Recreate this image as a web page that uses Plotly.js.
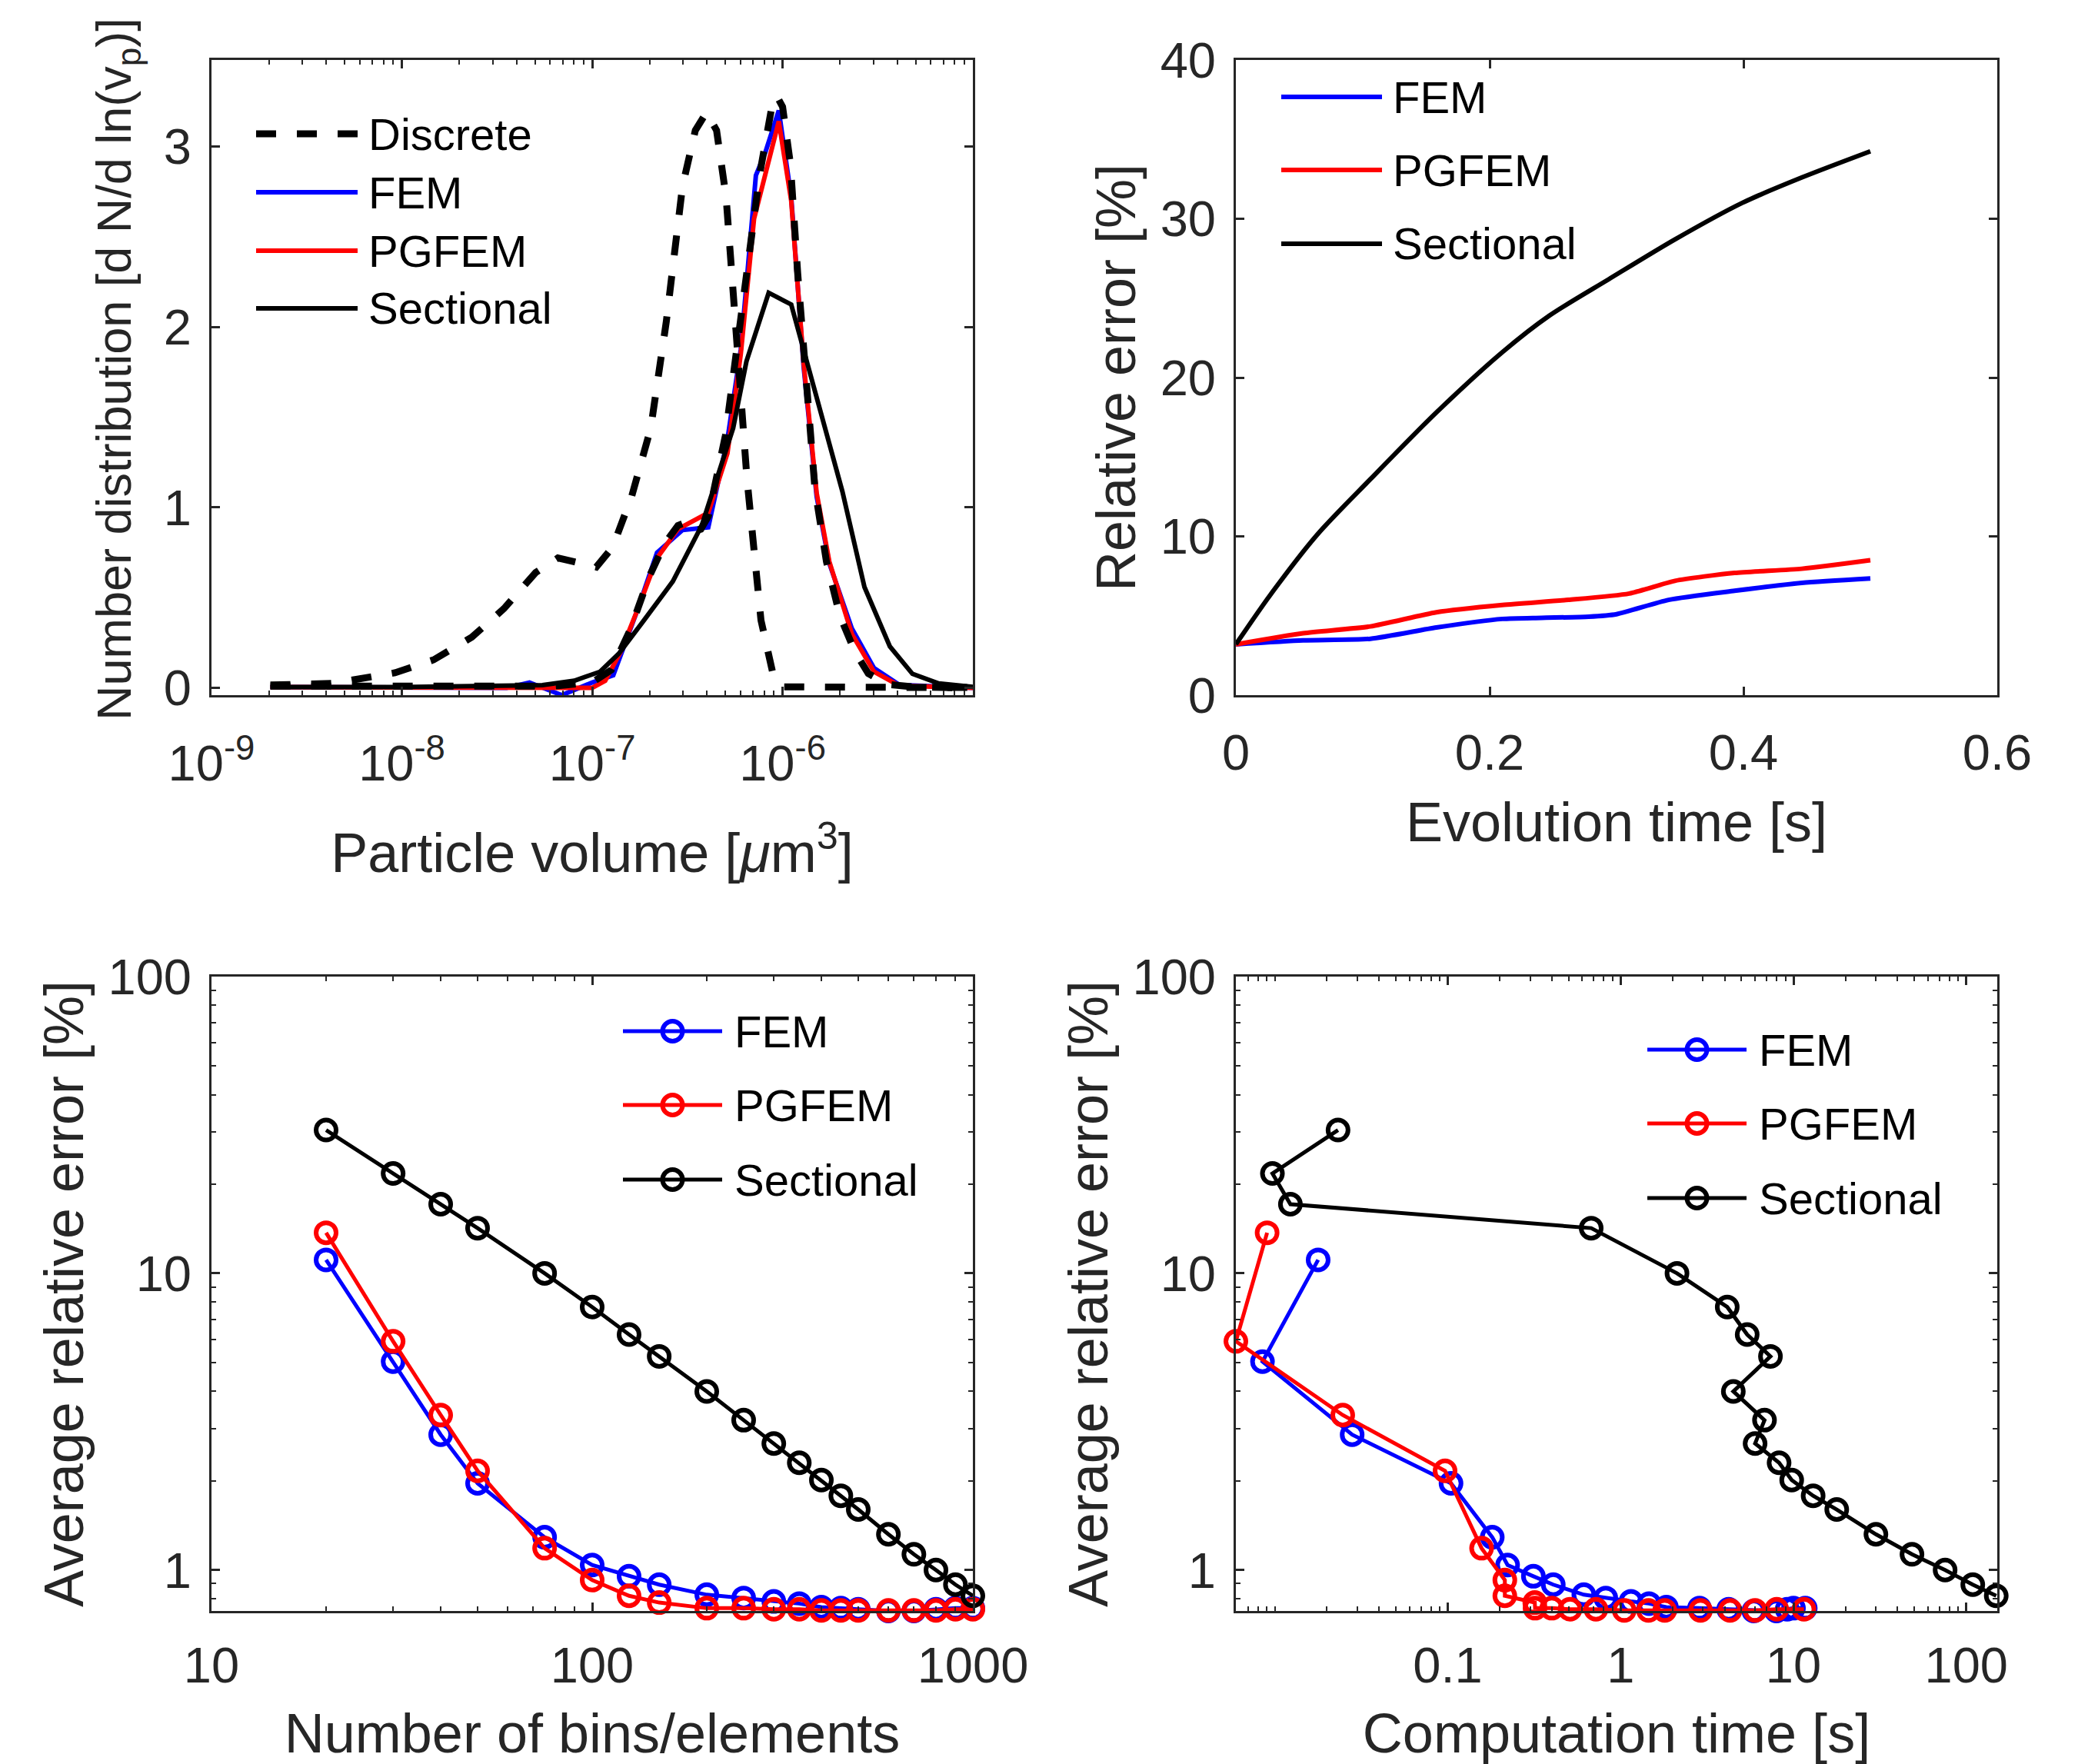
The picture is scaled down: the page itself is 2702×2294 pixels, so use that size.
<!DOCTYPE html>
<html><head><meta charset="utf-8">
<script src="https://cdn.plot.ly/plotly-3.0.1.min.js"></script>
<style>html,body{margin:0;padding:0;background:#fff}</style>
</head><body><div id="chart" style="width:2702px;height:2294px"></div>
<script>
// ---------- Panel (a): number distribution ----------
const volDiscreteA = [2.04e-9,4.3e-9,9.2e-9,1.47e-8,2.33e-8,3.44e-8,5.05e-8,6.6e-8,8.0e-8,1.05e-7,1.28e-7,1.61e-7,2.03e-7,2.45e-7,2.98e-7,3.48e-7,3.98e-7,4.5e-7,5.05e-7,5.66e-7,6.5e-7,7.7e-7,8.9e-7,1.0e-6,1.5e-6,4e-6,1e-5];
const valDiscreteA = [0.016,0.025,0.084,0.156,0.281,0.44,0.64,0.72,0.70,0.67,0.78,1.06,1.44,2.03,2.78,3.09,3.19,3.09,2.72,2.06,1.16,0.375,0.078,0.006,0.003,0.003,0.003];
const volDiscreteB = [2.04e-9,1e-8,3.16e-8,6.31e-8,1e-7,1.26e-7,1.58e-7,2.0e-7,2.4e-7,2.82e-7,3.16e-7,3.47e-7,3.72e-7,4.07e-7,5.01e-7,6.31e-7,7.59e-7,8.71e-7,9.33e-7,1e-6,1.10e-6,1.20e-6,1.32e-6,1.48e-6,1.70e-6,2.0e-6,2.4e-6,2.82e-6,3.55e-6,5.01e-6,1e-5];
const valDiscreteB = [0.01,0.01,0.01,0.01,0.03,0.1,0.32,0.62,0.8,0.9,0.92,0.87,0.88,0.95,1.4,2.2,2.85,3.2,3.28,3.22,2.9,2.3,1.7,1.1,0.7,0.4,0.2,0.08,0.02,0.005,0.0];
const volFEM = [2.04e-9,1e-8,2.51e-8,3.55e-8,4.68e-8,5.62e-8,6.92e-8,1e-7,1.29e-7,1.74e-7,2.19e-7,2.98e-7,3.55e-7,4.07e-7,5.13e-7,6.03e-7,7.24e-7,8.13e-7,9.55e-7,1.11e-6,1.29e-6,1.51e-6,1.76e-6,2.31e-6,3.02e-6,4.11e-6,1e-5];
const valFEM = [0.005,0.005,0.003,0.0,0.03,0.0,-0.04,0.03,0.07,0.44,0.75,0.875,0.88,0.89,1.375,1.875,2.84,2.97,3.2,2.72,1.78,1.06,0.69,0.33,0.11,0.016,0.0];
const volPGFEM = [2.04e-9,3.16e-8,6.31e-8,1e-7,1.17e-7,1.41e-7,1.74e-7,2.19e-7,2.82e-7,3.55e-7,4.07e-7,5.13e-7,6.03e-7,7.08e-7,8.32e-7,9.55e-7,1.11e-6,1.29e-6,1.51e-6,1.76e-6,2.31e-6,3.02e-6,4.11e-6,1e-5];
const valPGFEM = [0.005,0.005,0.0,0.0,0.04,0.2,0.44,0.72,0.88,0.94,0.97,1.3,1.85,2.6,2.9,3.14,2.7,1.8,1.08,0.7,0.3,0.09,0.012,0.0];
const volSect = [2.04e-9,1e-8,5.47e-8,8.04e-8,1.10e-7,1.38e-7,1.87e-7,2.65e-7,3.76e-7,5.5e-7,6.46e-7,8.45e-7,1.11e-6,1.47e-6,2.06e-6,2.69e-6,3.66e-6,4.81e-6,6.61e-6,1e-5];
const valSect = [0.005,0.005,0.015,0.04,0.09,0.19,0.375,0.59,0.9,1.44,1.81,2.19,2.125,1.66,1.09,0.56,0.23,0.078,0.025,0.006];

// ---------- Panel (b): relative error vs evolution time ----------
const tSect = [0,0.027,0.064,0.106,0.158,0.21,0.247,0.294,0.346,0.399,0.446,0.5];
const errSectT = [3.2,6.3,10.1,13.6,17.8,21.6,23.9,26.2,28.7,31.0,32.6,34.25];
const tFEM = [0,0.053,0.106,0.158,0.21,0.241,0.278,0.3,0.341,0.393,0.446,0.5];
const errFEMT = [3.2,3.45,3.55,4.26,4.8,4.87,4.94,5.1,6.0,6.57,7.07,7.35];
const tPGFEM = [0,0.053,0.106,0.158,0.21,0.262,0.31,0.346,0.393,0.446,0.5];
const errPGFEMT = [3.2,3.9,4.33,5.22,5.68,6.0,6.4,7.2,7.7,7.96,8.5];

// ---------- Panels (c),(d): convergence & cost ----------
const bins = [20,30,40,50,75,100,125,150,200,250,300,350,400,450,500,600,700,800,900,1000];
const avgErrFEM = [11.1,5.04,2.86,1.96,1.29,1.04,0.953,0.893,0.826,0.805,0.784,0.771,0.750,0.744,0.738,0.728,0.728,0.738,0.744,0.744];
const avgErrPGFEM = [13.7,5.90,3.33,2.16,1.185,0.925,0.819,0.777,0.744,0.744,0.738,0.738,0.731,0.731,0.731,0.731,0.731,0.731,0.738,0.738];
const avgErrSect = [30.4,21.7,17.1,14.2,10.0,7.70,6.22,5.25,4.00,3.20,2.67,2.30,2.01,1.78,1.60,1.32,1.13,1.00,0.893,0.819];
const cpuFEM = [0.0178,0.00848,0.028,0.1045,0.181,0.222,0.313,0.408,0.613,0.821,1.148,1.46,1.84,2.86,4.22,5.9,7.97,9.2,10.0,11.7];
const cpuPGFEM = [0.00902,0.00595,0.0247,0.0965,0.157,0.214,0.214,0.319,0.32,0.40,0.51,0.72,1.05,1.45,1.8,2.9,4.3,6.0,8.0,11.5];
const cpuSect = [0.0232,0.00968,0.0123,0.676,2.12,4.14,5.40,7.36,4.49,6.80,6.0,8.26,9.77,13.0,17.8,30.0,48.5,75.4,109,149];

const seriesNames = ['FEM','PGFEM','Sectional'];
const discreteName = 'Discrete';
const volTicks = [1e-9,1e-8,1e-7,1e-6];
const volTickText = ['10<sup>-9</sup>','10<sup>-8</sup>','10<sup>-7</sup>','10<sup>-6</sup>'];

// ---------- styling ----------
const W = 2702, H = 2294;
const BLUE = '#0000ff', RED = '#ff0000', BLACK = '#000000', AX = '#262626';
const colors = [BLUE, RED, BLACK];
const FONT = 'Arial, "Liberation Sans", Helvetica, sans-serif';
const px = x => x / W, py = y => 1 - y / H;

const axBase = {
  showline: true, linecolor: AX, linewidth: 3, mirror: 'ticks',
  ticks: 'inside', ticklen: 11, tickwidth: 3, tickcolor: AX,
  showgrid: false, zeroline: false, automargin: false,
  tickfont: {family: FONT, size: 65, color: AX}
};
const minorLog = {ticks: 'inside', ticklen: 6, tickwidth: 2, tickcolor: AX, dtick: 'D1', showgrid: false};
const titleFont = {family: FONT, size: 72, color: AX};

const traces = [];
// Panel a
traces.push({x: volFEM, y: valFEM, xaxis: 'x', yaxis: 'y', mode: 'lines', line: {color: BLUE, width: 6}, showlegend: false, name: seriesNames[0]});
traces.push({x: volPGFEM, y: valPGFEM, xaxis: 'x', yaxis: 'y', mode: 'lines', line: {color: RED, width: 6}, showlegend: false, name: seriesNames[1]});
traces.push({x: volSect, y: valSect, xaxis: 'x', yaxis: 'y', mode: 'lines', line: {color: BLACK, width: 6}, showlegend: false, name: seriesNames[2]});
traces.push({x: volDiscreteA, y: valDiscreteA, xaxis: 'x', yaxis: 'y', mode: 'lines', line: {color: BLACK, width: 9, dash: '26px,27px'}, showlegend: false, name: discreteName});
traces.push({x: volDiscreteB, y: valDiscreteB, xaxis: 'x', yaxis: 'y', mode: 'lines', line: {color: BLACK, width: 9, dash: '26px,27px'}, showlegend: false, name: discreteName});
// Panel b
traces.push({x: tFEM, y: errFEMT, xaxis: 'x2', yaxis: 'y2', mode: 'lines', line: {color: BLUE, width: 6, shape: 'spline', smoothing: 0.6}, showlegend: false, name: seriesNames[0]});
traces.push({x: tPGFEM, y: errPGFEMT, xaxis: 'x2', yaxis: 'y2', mode: 'lines', line: {color: RED, width: 6, shape: 'spline', smoothing: 0.6}, showlegend: false, name: seriesNames[1]});
traces.push({x: tSect, y: errSectT, xaxis: 'x2', yaxis: 'y2', mode: 'lines', line: {color: BLACK, width: 6, shape: 'spline', smoothing: 0.8}, showlegend: false, name: seriesNames[2]});
// Panels c, d
const errs = [avgErrFEM, avgErrPGFEM, avgErrSect];
const cpus = [cpuFEM, cpuPGFEM, cpuSect];
const mk = c => ({symbol: 'circle-open', size: 26, color: c, line: {width: 6, color: c}});
for (let i = 0; i < 3; i++) {
  traces.push({x: bins, y: errs[i], xaxis: 'x3', yaxis: 'y3', mode: 'lines+markers', cliponaxis: false,
    line: {color: colors[i], width: 5}, marker: mk(colors[i]), showlegend: false, name: seriesNames[i]});
}
for (let i = 0; i < 3; i++) {
  traces.push({x: cpus[i], y: errs[i], xaxis: 'x4', yaxis: 'y4', mode: 'lines+markers', cliponaxis: false,
    line: {color: colors[i], width: 5}, marker: mk(colors[i]), showlegend: false, name: seriesNames[i]});
}

// ---------- hand-drawn legends (MATLAB style long samples) ----------
const shapes = [], annotations = [];
function legendEntry(x0, x1, y, label, color, opts) {
  opts = opts || {};
  shapes.push({type: 'line', xref: 'paper', yref: 'paper', x0: px(x0), x1: px(x1), y0: py(y), y1: py(y),
    line: {color: color, width: opts.width || 6, dash: opts.dash || 'solid'}});
  if (opts.marker) {
    const cx = (x0 + x1) / 2;
    shapes.push({type: 'circle', xref: 'paper', yref: 'paper', xsizemode: 'pixel', ysizemode: 'pixel',
      xanchor: px(cx), yanchor: py(y), x0: -13, x1: 13, y0: -13, y1: 13,
      line: {color: color, width: 6}, fillcolor: 'rgba(0,0,0,0)'});
  }
  annotations.push({xref: 'paper', yref: 'paper', x: px(opts.tx), y: py(y), xanchor: 'left', yanchor: 'middle',
    text: label, showarrow: false, font: {family: FONT, size: 58, color: '#000'}});
}
// panel a legend
const legA = [[discreteName, BLACK, {width: 9, dash: '26px,27px'}], [seriesNames[0], BLUE, {}], [seriesNames[1], RED, {}], [seriesNames[2], BLACK, {}]];
const legAy = [174, 250, 326, 401];
legA.forEach((e, i) => legendEntry(333, 465, legAy[i], e[0], e[1], Object.assign({tx: 477}, e[2])));
// panel b legend
const legBy = [126, 221, 317];
seriesNames.forEach((n, i) => legendEntry(1666, 1797, legBy[i], n, colors[i], {tx: 1809}));
// panel c legend
const legCy = [1341, 1437, 1534];
seriesNames.forEach((n, i) => legendEntry(810, 939, legCy[i], n, colors[i], {tx: 953, marker: true, width: 5}));
// panel d legend
const legDy = [1365, 1461, 1558];
seriesNames.forEach((n, i) => legendEntry(2142, 2271, legDy[i], n, colors[i], {tx: 2285, marker: true, width: 5}));

// panel a y-axis title (TeX-style label, slightly smaller, placed as in the reference)
annotations.push({xref: 'paper', yref: 'paper', x: px(152), y: py(480), xanchor: 'center', yanchor: 'middle',
  textangle: -90, showarrow: false, text: 'Number distribution [d N/d ln(v<sub>p</sub>)]',
  font: {family: FONT, size: 63, color: AX}});

const domXL = [px(275), px(1265)], domXR = [px(1607), px(2597)];
const domYT = [py(904), py(78)], domYB = [py(2095), py(1270)];

const layout = {
  width: W, height: H, margin: {l: 0, r: 0, t: 0, b: 0},
  paper_bgcolor: '#fff', plot_bgcolor: '#fff', showlegend: false,
  font: {family: FONT, color: AX},
  xaxis: Object.assign({}, axBase, {domain: domXL, anchor: 'y', type: 'log', range: [-9, -5.0005],
    tickmode: 'array', tickvals: volTicks, ticktext: volTickText, minor: minorLog, ticklabelstandoff: 30,
    title: {text: 'Particle volume [<i>μ</i>m<sup>3</sup>]', font: titleFont, standoff: 56}}),
  yaxis: Object.assign({}, axBase, {domain: domYT, anchor: 'x', range: [-0.04, 3.48], dtick: 1, tick0: 0,
    ticklabelstandoff: 10}),
  xaxis2: Object.assign({}, axBase, {domain: domXR, anchor: 'y2', range: [0, 0.6], dtick: 0.2, tick0: 0,
    ticklabelstandoff: 16,
    title: {text: 'Evolution time [s]', font: titleFont, standoff: 30}}),
  yaxis2: Object.assign({}, axBase, {domain: domYT, anchor: 'x2', range: [0, 40], dtick: 10, tick0: 0,
    ticklabelstandoff: 10,
    title: {text: 'Relative error [%]', font: titleFont, standoff: 9}}),
  xaxis3: Object.assign({}, axBase, {domain: domXL, anchor: 'y3', type: 'log', range: [1, 3],
    tickmode: 'array', tickvals: [10, 100, 1000], ticktext: ['10', '100', '1000'], minor: minorLog, ticklabelstandoff: 12,
    title: {text: 'Number of bins/elements', font: titleFont, standoff: 52}}),
  yaxis3: Object.assign({}, axBase, {domain: domYB, anchor: 'x3', type: 'log', range: [Math.log10(0.728), 2],
    tickmode: 'array', tickvals: [1, 10, 100], ticktext: ['1', '10', '100'], minor: minorLog, ticklabelstandoff: 10,
    title: {text: 'Average relative error [%]', font: titleFont, standoff: 9}}),
  xaxis4: Object.assign({}, axBase, {domain: domXR, anchor: 'y4', type: 'log', range: [Math.log10(0.00595), Math.log10(151)],
    tickmode: 'array', tickvals: [0.1, 1, 10, 100], ticktext: ['0.1', '1', '10', '100'], minor: minorLog, ticklabelstandoff: 12,
    title: {text: 'Computation time [s]', font: titleFont, standoff: 52}}),
  yaxis4: Object.assign({}, axBase, {domain: domYB, anchor: 'x4', type: 'log', range: [Math.log10(0.728), 2],
    tickmode: 'array', tickvals: [1, 10, 100], ticktext: ['1', '10', '100'], minor: minorLog, ticklabelstandoff: 10,
    title: {text: 'Average relative error [%]', font: titleFont, standoff: 9}}),
  shapes: shapes, annotations: annotations
};

Plotly.newPlot('chart', traces, layout, {staticPlot: true, displayModeBar: false});
</script></body></html>
